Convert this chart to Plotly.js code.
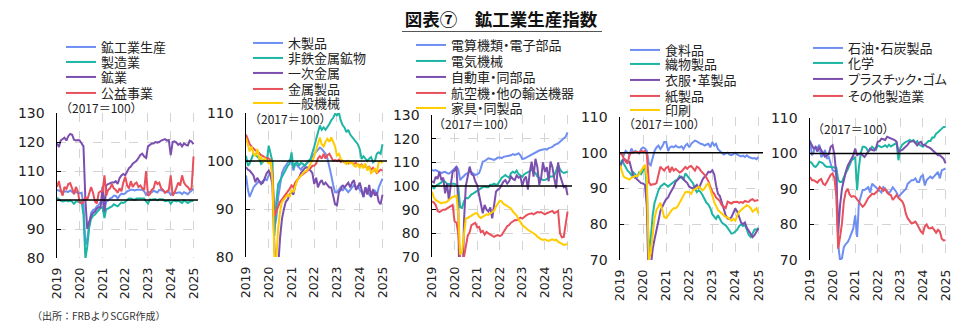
<!DOCTYPE html>
<html><head><meta charset="utf-8">
<script src="https://cdn.plot.ly/plotly-3.0.1.min.js"></script>
<style>html,body{margin:0;padding:0;background:#fff}#chart{width:962px;height:329px}
svg text{font-feature-settings:"palt";}
svg text.annotation-text{font-feature-settings:normal;}</style>
</head><body><div id="chart"></div>
<script>
// ---------- data (monthly, 2019-01 .. 2025-01, 2017=100) ----------
const startYear = 2019;
const yearTicks = ['2019','2020','2021','2022','2023','2024','2025'];

// Panel 1
const p1Names = ['鉱工業生産','製造業','鉱業','公益事業'];
const ipTotal = [103.5,103.2,103.2,102.8,103.0,103.0,102.8,103.3,102.8,102.3,102.8,102.5,
 102.3,102.5,98.5,84.5,86.5,91.5,95.5,96.5,96.8,97.8,98.3,99.3,
 99.8,96.5,99.5,99.8,100.5,100.8,101.5,101.5,100.5,101.5,102.2,102.0,
 102.3,103.0,103.3,103.5,103.5,103.3,103.5,103.5,103.6,103.5,103.0,101.8,
 102.8,102.8,102.6,103.2,103.0,102.6,103.5,103.4,103.2,102.7,102.8,102.8,
 101.8,102.4,102.5,102.4,102.6,102.6,102.0,102.7,102.4,102.0,102.7,103.2,
 103.8];
const manufacturing = [100.8,100.2,99.8,99.5,99.7,99.8,99.5,99.8,99.4,98.7,99.5,99.5,
 99.2,99.4,95.0,79.8,84.0,90.5,93.5,94.5,95.0,95.8,96.5,97.3,
 97.5,93.8,97.0,97.0,97.5,97.8,98.5,98.0,97.8,98.5,99.2,99.0,
 99.3,100.0,100.5,100.5,100.3,100.0,100.5,100.5,100.6,100.7,100.5,99.5,
 98.8,100.2,100.0,100.3,100.3,99.9,100.3,100.3,100.2,99.6,99.8,99.8,
 98.7,99.6,99.8,99.5,99.8,99.5,99.0,99.9,99.5,99.0,99.5,99.7,
 99.7];
const mining = [119.5,118.3,120.5,121.0,121.5,120.5,122.0,122.8,122.5,120.8,120.5,120.7,
 120.5,119.5,118.5,100.0,90.0,92.5,94.5,95.5,96.0,97.0,97.5,97.5,
 104.5,96.0,105.0,105.5,105.8,106.0,106.0,106.5,105.5,107.5,108.5,109.0,
 108.5,110.0,111.0,111.5,112.5,113.0,113.5,114.5,115.5,116.0,115.0,114.5,
 118.5,119.0,119.5,119.5,120.0,119.8,120.0,120.5,120.8,121.0,120.5,120.7,
 115.5,120.0,120.2,119.8,119.0,119.5,118.5,119.5,119.0,118.8,120.5,120.2,
 119.2];
const utilities = [104.5,106.5,103.5,101.5,104.5,103.8,105.5,105.8,104.0,102.0,104.5,103.0,
 99.2,98.8,99.5,101.0,100.0,102.0,104.5,102.5,99.5,98.8,102.5,103.0,
 103.0,108.5,101.5,103.5,104.0,105.5,104.0,103.5,102.5,104.0,103.0,106.0,
 108.0,105.0,104.0,106.5,104.5,105.5,106.0,104.5,105.0,104.0,103.5,110.0,
 101.5,102.0,103.5,104.0,106.5,105.5,106.0,104.0,103.5,102.5,103.0,103.5,
 108.5,101.5,102.5,104.5,106.0,105.0,108.5,106.0,105.0,104.5,103.5,104.0,
 115.0];

// Panel 2
const p2Names = ['木製品','非鉄金属鉱物','一次金属','金属製品','一般機械'];
const wood = [97.0,94.0,92.5,93.5,94.5,95.0,95.3,95.8,95.5,95.8,96.2,96.0,
 97.0,97.5,96.0,86.0,88.0,92.5,95.5,97.5,98.5,99.0,99.5,100.2,
 99.8,98.0,99.5,99.0,98.5,98.2,98.8,99.0,99.5,99.8,100.2,101.0,
 101.5,102.0,102.5,102.8,102.5,102.0,101.5,100.5,99.0,97.0,95.0,93.5,
 93.5,94.0,94.5,93.8,94.5,94.0,93.5,94.0,94.5,95.0,94.5,94.8,
 94.0,93.5,92.5,94.5,94.0,93.0,92.5,94.0,93.8,92.8,94.5,95.5,
 96.3];
const nonmetallic = [101.1,99.0,99.5,100.5,101.5,101.3,101.0,100.5,99.4,99.8,100.5,100.0,
 103.2,101.0,99.8,84.4,91.4,95.2,96.0,96.6,97.5,98.3,99.0,99.4,
 101.8,98.5,99.5,99.8,99.0,99.6,99.4,99.0,99.6,100.0,100.4,101.5,
 103.0,104.6,106.0,107.4,106.5,107.0,106.5,107.0,107.7,108.5,109.0,109.8,
 109.5,110.1,108.5,107.5,107.0,106.0,106.5,105.5,105.0,104.5,103.9,103.5,
 102.5,100.4,101.0,100.5,100.0,100.5,100.8,99.7,100.0,101.5,101.8,101.5,
 103.5];
const primaryMetals = [98.7,98.2,98.0,97.5,97.0,95.6,96.5,95.8,95.2,95.5,96.5,97.5,
 98.0,97.0,95.0,82.0,76.0,78.0,84.0,88.0,90.0,91.5,92.0,93.0,
 93.5,93.0,95.0,96.0,96.5,97.5,98.0,98.5,98.7,98.5,98.0,97.5,
 95.2,96.5,94.5,95.5,96.0,95.0,95.5,95.0,94.5,94.5,93.0,91.0,
 90.8,93.5,94.0,95.0,94.5,95.0,95.5,94.5,95.5,96.0,94.0,94.5,
 95.5,94.0,92.5,94.5,93.0,95.0,92.5,94.0,92.8,93.5,91.5,91.0,
 93.0];
const fabricated = [105.5,104.5,103.5,103.0,102.5,102.2,102.0,101.5,101.2,101.0,100.8,100.5,
 100.5,100.2,97.0,88.5,89.5,90.5,91.5,92.0,92.5,93.0,93.5,94.2,
 94.9,94.5,95.5,96.0,96.5,97.0,97.2,97.6,98.0,98.2,98.5,99.0,
 99.0,99.5,100.5,101.0,100.5,101.5,100.5,101.2,101.5,100.8,100.0,100.2,
 100.0,100.3,99.8,100.0,99.7,99.8,99.5,99.8,99.5,99.4,99.6,99.2,
 99.0,99.3,98.8,99.0,98.5,98.8,98.2,98.6,98.0,97.5,97.8,98.2,
 98.0];
const machinery = [104.8,103.5,102.0,103.0,101.5,101.0,102.5,100.5,100.8,99.8,100.5,100.0,
 99.5,100.2,96.0,80.0,79.5,86.0,89.5,91.5,92.0,92.5,93.0,92.5,
 94.0,93.5,95.0,96.0,96.5,97.0,97.5,97.8,98.0,98.5,99.5,100.0,
 101.0,102.5,103.5,104.9,103.5,103.0,104.0,104.6,104.0,104.9,104.0,103.0,
 101.1,101.5,100.5,100.0,99.8,99.4,100.0,99.5,99.7,99.0,98.8,99.5,
 98.5,99.2,98.5,99.5,98.0,98.8,97.5,97.8,98.5,97.5,99.8,100.0,
 99.5];

// Panel 3
const p3Names = ['電算機類・電子部品','電気機械','自動車・同部品','航空機・他の輸送機器','家具・同製品'];
const computers = [106.8,106.5,106.7,106.3,106.0,105.4,105.8,106.0,105.5,105.2,105.8,106.5,
 107.5,108.2,107.0,102.5,103.5,104.5,105.0,105.5,106.0,105.8,105.2,104.6,
 105.0,105.5,107.5,110.3,110.5,111.0,111.7,111.5,111.3,111.0,111.5,112.0,
 112.0,111.8,112.3,112.5,112.5,112.8,113.0,113.5,113.1,113.4,113.8,113.0,
 111.4,111.6,112.0,112.5,113.0,113.4,113.8,114.2,114.5,115.0,115.2,115.4,
 115.6,115.4,116.0,116.2,116.5,117.3,117.5,118.0,118.7,119.5,120.0,120.8,
 122.7];
const electrical = [100.4,98.8,100.0,100.5,101.0,101.5,102.5,101.5,101.0,100.8,101.0,101.0,
 101.0,100.5,99.5,91.0,90.7,93.5,95.0,94.8,95.5,96.5,96.9,97.5,
 98.0,98.5,99.0,99.5,99.8,99.5,99.5,100.5,100.5,101.0,100.5,100.8,
 102.5,103.5,104.0,104.6,104.0,103.5,105.4,106.0,105.5,106.5,105.0,104.5,
 103.9,105.0,105.5,106.0,106.5,106.8,106.0,105.5,104.0,103.5,103.0,102.5,
 102.5,103.0,103.5,104.0,104.0,104.5,106.5,108.9,107.0,106.0,105.5,105.8,
 106.0];
const motorVehicles = [102.0,101.5,103.9,103.0,106.0,102.5,103.5,96.9,101.0,94.0,100.5,106.0,
 106.5,108.2,92.0,25.0,45.0,85.0,100.0,104.0,108.2,105.0,104.5,102.0,
 100.4,96.2,92.0,88.5,92.0,90.0,89.2,91.0,86.3,92.0,97.6,98.5,
 99.0,100.5,101.8,102.5,101.0,102.0,104.0,103.0,102.5,104.5,103.5,104.0,
 100.0,103.0,104.0,98.5,106.0,110.3,104.0,111.5,108.0,100.5,103.5,110.0,
 106.0,108.0,102.0,110.3,108.0,103.0,99.0,110.0,104.5,102.0,99.5,100.0,
 96.2];
const aerospace = [93.5,93.0,92.0,89.5,89.0,89.5,90.0,90.0,90.5,91.0,91.5,92.0,
 85.0,84.5,80.0,62.0,60.0,70.0,75.0,79.0,80.5,83.5,84.0,84.4,
 82.5,82.7,80.5,81.0,79.5,80.6,80.0,79.5,79.0,78.5,79.0,79.3,
 78.8,79.3,80.5,82.0,83.0,83.5,84.5,85.0,85.6,85.5,86.0,86.6,
 86.2,87.0,87.5,88.0,88.2,88.5,88.0,88.5,89.0,88.8,89.0,88.5,
 88.0,88.5,88.8,89.0,89.5,88.5,89.0,89.5,80.0,78.3,78.5,83.0,
 89.2];
const furniture = [97.6,95.0,94.1,93.5,93.0,92.7,93.0,93.0,93.4,94.0,95.0,95.5,
 95.5,96.0,88.0,71.0,72.3,80.0,86.3,86.5,87.0,87.5,88.0,88.5,
 88.5,87.0,86.5,87.0,87.5,88.0,87.8,88.5,89.0,89.5,91.3,92.7,
 93.8,93.5,92.5,92.0,91.5,91.0,90.5,89.2,88.5,87.5,86.0,84.5,
 83.5,82.8,82.0,81.5,81.0,80.5,80.0,79.5,78.6,78.0,77.5,77.2,
 77.5,77.0,76.8,77.2,77.5,77.0,77.3,76.5,76.0,75.8,75.1,75.3,
 75.5];

// Panel 4
const p4Names = ['食料品','織物製品','衣服・革製品','紙製品','印刷'];
const food = [100.0,99.5,99.3,100.5,100.0,99.5,101.2,100.0,100.5,100.0,99.8,101.0,
 101.5,101.2,100.5,97.0,96.5,99.0,100.5,101.5,102.0,101.0,101.8,103.0,
 103.0,100.5,101.5,101.8,101.5,102.0,101.6,101.5,101.8,101.0,102.0,102.5,
 101.5,102.5,103.0,103.4,103.2,102.8,102.5,102.4,102.0,102.3,102.5,101.5,
 103.0,102.0,102.5,101.0,100.5,100.2,99.5,99.8,100.0,99.5,99.3,99.6,
 100.0,99.5,99.3,99.0,99.2,98.8,99.3,98.8,98.6,98.4,98.5,98.2,
 98.8];
const textiles = [96.5,98.0,97.0,96.0,95.0,94.5,93.7,94.5,94.0,93.3,94.5,94.0,
 95.0,96.5,90.0,72.0,75.8,82.5,86.0,88.0,89.5,90.5,91.0,91.4,
 91.0,90.5,91.0,91.5,92.0,92.3,92.5,93.5,93.0,92.5,94.2,93.5,
 93.0,92.0,91.5,90.0,89.0,89.5,89.0,88.1,87.0,86.0,85.5,84.5,
 82.8,82.0,81.5,82.5,81.5,80.5,80.0,79.7,79.0,78.0,77.4,77.5,
 78.0,78.5,79.5,80.0,79.5,79.8,78.5,77.0,76.4,77.5,78.5,78.5,
 78.9];
const apparel = [96.0,97.5,98.4,98.0,97.5,97.5,95.0,93.3,93.0,92.5,92.0,91.5,
 91.4,91.0,85.0,62.0,68.0,73.0,75.8,78.0,81.0,83.7,85.0,86.0,
 87.0,87.5,88.6,89.5,90.5,91.9,92.5,93.0,93.3,92.5,92.0,91.5,
 90.5,90.2,90.0,90.5,91.0,90.0,91.5,92.5,93.3,93.8,94.7,94.5,
 95.1,94.0,91.0,88.5,87.9,86.0,84.5,82.5,81.6,81.5,82.0,83.0,
 84.4,83.5,82.0,80.5,80.0,80.5,79.0,78.0,77.0,76.4,77.0,78.0,
 78.9];
const paper = [99.8,99.5,98.5,97.5,97.0,99.5,100.0,100.0,100.2,100.3,100.0,100.5,
 100.3,100.5,99.5,91.8,91.0,91.2,91.2,91.5,93.5,96.1,95.5,95.0,
 95.8,96.1,94.5,96.0,95.0,95.5,95.0,94.5,94.8,95.5,96.0,95.5,
 96.1,96.3,95.5,95.0,96.1,95.8,95.0,94.5,93.8,93.0,92.0,90.5,
 89.1,88.5,87.5,87.0,86.5,85.3,85.0,84.5,86.3,86.0,85.8,86.2,
 86.3,86.3,86.0,86.2,86.0,86.5,86.3,86.3,86.8,87.0,86.5,86.6,
 86.8];
const printing = [96.5,95.0,93.3,93.0,92.8,92.5,93.0,93.3,93.5,93.5,94.0,95.0,
 96.0,96.6,93.0,70.0,72.0,78.0,81.7,84.0,85.0,86.0,84.0,82.0,
 81.7,82.5,83.5,84.0,84.5,84.5,85.0,86.0,87.0,88.0,89.0,89.1,
 89.0,88.5,89.5,89.8,90.0,90.5,90.0,89.5,90.0,91.0,91.4,90.0,
 88.0,86.2,85.0,84.0,83.5,83.0,82.5,82.0,81.9,81.5,81.0,81.5,
 81.0,82.5,83.5,84.0,84.5,85.0,85.3,85.0,84.5,83.5,84.0,84.5,
 83.0];

// Panel 5
const p5Names = ['石油・石炭製品','化学','プラスチック・ゴム','その他製造業'];
const petroleum = [103.8,99.5,100.5,101.9,101.5,102.5,99.0,99.5,101.0,98.5,99.0,97.5,
 95.3,95.0,95.3,74.2,70.0,70.5,73.6,74.5,75.0,76.1,77.5,78.9,
 82.6,76.5,85.9,88.0,89.7,89.7,90.0,90.5,89.0,91.5,91.0,90.5,
 90.0,89.7,89.0,90.5,90.0,89.5,88.8,89.5,90.5,89.8,89.0,87.8,
 88.5,89.0,89.5,90.0,91.5,92.0,92.5,92.5,93.0,92.0,92.0,93.5,
 93.9,91.0,92.5,93.0,93.5,93.0,93.5,94.0,94.8,93.0,95.3,95.5,
 95.8];
const chemicals = [97.7,97.3,96.5,96.2,96.8,97.7,97.5,97.2,96.5,96.2,96.3,96.2,
 96.3,96.2,96.0,92.5,92.0,92.0,93.4,94.5,95.5,96.7,98.0,98.5,
 99.0,89.7,96.0,100.0,101.9,101.9,101.5,100.5,101.0,101.9,101.5,101.0,
 102.3,102.0,101.8,102.0,102.3,101.8,102.5,102.0,102.3,102.8,103.0,98.1,
 101.5,102.5,103.0,103.3,103.5,103.8,103.5,103.8,103.0,103.5,102.5,102.3,
 101.9,102.5,103.0,103.5,103.5,104.5,104.5,105.6,106.0,106.6,107.0,107.5,
 107.5];
const plastics = [103.3,102.3,101.4,101.8,100.5,101.9,100.8,100.0,99.1,99.5,99.8,101.9,
 102.3,99.5,94.0,77.5,85.4,90.1,93.0,94.8,96.5,97.5,98.6,99.5,
 101.4,99.5,99.8,100.0,99.5,99.0,99.8,100.5,101.4,101.0,100.8,101.5,
 103.3,103.5,104.2,104.0,103.8,104.7,104.5,104.2,104.0,103.8,103.3,100.5,
 100.8,101.0,101.5,102.0,102.5,103.3,103.3,103.5,103.0,102.3,103.0,103.3,
 102.3,102.5,102.0,101.8,101.5,101.0,100.5,100.0,99.5,99.5,99.0,98.5,
 97.2];
const otherMfg = [93.4,92.5,92.5,92.0,91.8,92.5,92.8,91.5,91.1,92.0,93.0,94.0,
 94.4,93.0,88.0,73.2,76.5,80.3,86.4,89.2,90.1,88.5,87.8,88.0,
 87.8,87.0,86.5,85.5,85.0,85.5,86.5,87.5,88.0,88.7,88.5,89.0,
 89.5,90.6,90.0,89.5,90.0,89.0,88.5,88.3,86.9,87.5,88.3,87.5,
 87.0,86.5,85.4,83.0,81.7,81.0,80.3,80.5,80.8,80.0,79.0,78.0,
 77.5,79.5,80.0,79.0,78.9,79.2,78.5,77.7,78.5,78.0,76.0,75.5,
 75.6];

const colors5 = ['#6e8ef2','#1db5a3','#7b4fae','#e8505b','#ffcc00'];
const colors4 = ['#6e8ef2','#1db5a3','#7b4fae','#e8505b'];

const panels = [
  {names:p1Names, series:[ipTotal,manufacturing,mining,utilities], colors:colors4, yr:[80,130],
   px:[57,198], py:[113,258], lx:66, ly:[47,62,77,93]},
  {names:p2Names, series:[wood,nonmetallic,primaryMetals,fabricated,machinery], colors:colors5, yr:[80,110],
   px:[246,387], py:[113,257], lx:253, ly:[43,58,73,89,103]},
  {names:p3Names, series:[computers,electrical,motorVehicles,aerospace,furniture], colors:colors5, yr:[70,130],
   px:[432,572], py:[115,257], lx:416, ly:[45,61,77,93,108]},
  {names:p4Names, series:[food,textiles,apparel,paper,printing], colors:colors5, yr:[70,110],
   px:[620,763], py:[117,260], lx:630, ly:[50,64,80,96,110]},
  {names:p5Names, series:[petroleum,chemicals,plastics,otherMfg], colors:colors4, yr:[70,110],
   px:[810,950], py:[118,260], lx:813, ly:[48,63,79,96]}
];
const unitNotes = [[58,107],[247,119],[431,124],[621,123],[810,128]];

// ---------- build ----------
const W = 962, H = 329;
const months = [];
for (let i = 0; i < ipTotal.length; i++) {
  const y = startYear + Math.floor(i / 12), m = (i % 12) + 1;
  months.push(y + '-' + String(m).padStart(2, '0') + '-01');
}
const jpFont = '"Noto Sans CJK JP", "Noto Sans", sans-serif';
const numFont = '"DejaVu Sans", Verdana, sans-serif';

const data = [];
const layout = {
  width: W, height: H, margin: {l:0, r:0, t:0, b:0, autoexpand:false},
  paper_bgcolor: '#fff', plot_bgcolor: '#fff', showlegend: true,
  title: {text: '<b>図表⑦　鉱工業生産指数</b>', x: 501/W, y: 1 - 20/H, xanchor: 'center', yanchor: 'middle',
          xref: 'paper', yref: 'paper', font: {family: jpFont, size: 17.5, color: '#111'}},
  shapes: [{type:'line', xref:'paper', yref:'paper', x0:402/W, x1:602/W, y0:1-31.5/H, y1:1-31.5/H,
            line:{color:'#555', width:1}}],
  annotations: [{text:'（出所：FRBよりSCGR作成）', xref:'paper', yref:'paper', x:30/W, y:1-315/H,
                 xanchor:'left', yanchor:'middle', showarrow:false, font:{family:jpFont, size:10, color:'#333'}}]
};

let k = 0;
panels.forEach((p, pi) => {
  const ax = pi === 0 ? '' : String(pi + 1);
  layout['xaxis' + ax] = {
    domain: [p.px[0]/W, p.px[1]/W], anchor: 'y' + ax, type: 'date',
    range: ['2019-01-01', '2025-03-14'], tickmode: 'array',
    tickvals: yearTicks.map(y => y + '-01-01'), ticktext: yearTicks,
    tickangle: -90, showgrid: true, gridcolor: '#d4d4d4', griddash: 'dash', gridwidth: 1,
    showline: false, zeroline: false, ticks: '', ticklabelstandoff: 6,
    tickfont: {family: numFont, size: 12.5, color: '#222'}
  };
  layout['yaxis' + ax] = {
    domain: [1 - p.py[1]/H, 1 - p.py[0]/H], anchor: 'x' + ax, range: p.yr, dtick: 10, tick0: 0,
    showgrid: true, gridcolor: '#d4d4d4', griddash: 'dash', gridwidth: 1, zeroline: false,
    showline: true, linecolor: '#000', linewidth: 1.5, ticks: 'inside', ticklen: 4, tickcolor: '#000',
    ticklabelstandoff: 8, tickfont: {family: numFont, size: 14, color: '#222'}
  };
  layout.shapes.push({type:'line', xref:'x' + ax + ' domain', yref:'y' + ax, x0:0, x1:1, y0:100, y1:100,
                      line:{color:'#000', width:1.5}});
  layout.annotations.push({text:'（2017＝100）', xref:'paper', yref:'paper', x:unitNotes[pi][0]/W, y:1-unitNotes[pi][1]/H,
                           xanchor:'left', yanchor:'middle', showarrow:false, font:{family:jpFont, size:12, color:'#222'}});
  p.series.forEach((s, si) => {
    k++;
    const lg = k === 1 ? 'legend' : 'legend' + k;
    data.push({x: months, y: s, type: 'scatter', mode: 'lines', name: p.names[si],
               line: {color: p.colors[si], width: 2}, xaxis: 'x' + ax, yaxis: 'y' + ax,
               legend: lg, hoverinfo: 'skip'});
    layout[lg] = {x: (p.lx - 5)/W, xanchor: 'left', y: 1 - p.ly[si]/H, yanchor: 'middle',
                  bgcolor: 'rgba(0,0,0,0)', borderwidth: 0,
                  font: {family: jpFont, size: 13, color: '#222'}};
  });
});

Plotly.newPlot('chart', data, layout, {staticPlot: true, displayModeBar: false});
</script></body></html>
